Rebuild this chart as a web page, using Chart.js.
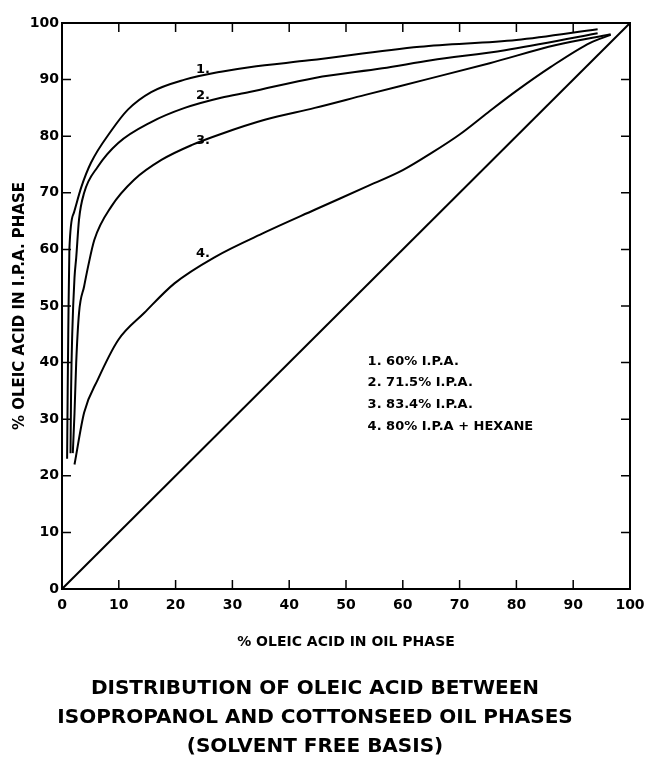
<!DOCTYPE html>
<html>
<head>
<meta charset="utf-8">
<script src="https://cdn.jsdelivr.net/npm/chart.js@4.4.1/dist/chart.umd.min.js"></script>
<style>
    html, body { margin: 0; padding: 0; background: #fff; }
    canvas { display: block; }
</style>
</head>
<body>
<canvas id="chart" width="653" height="767"></canvas>
<script>
// curve 1: 60% I.P.A.
const curve1X = [0.9, 1.0, 1.1, 1.3, 2.1, 3.4, 5.1, 8.7, 11.6, 15.7, 21.6, 28, 33, 43.5, 63, 80, 94.3];
const curve1Y = [23, 35, 45, 60, 66.5, 71, 75.3, 81, 84.7, 87.8, 90, 91.4, 92.2, 93.4, 95.8, 97, 98.9];

// curve 2: 71.5% I.P.A.
const curve2X = [1.5, 1.6, 1.8, 2.2, 2.5, 3, 3.9, 6.3, 9.9, 15.7, 21.6, 28, 33, 44.5, 56.4, 65, 78, 94.3];
const curve2Y = [24, 35, 45, 55, 58.5, 65.3, 70, 74.6, 78.8, 82.5, 85, 86.8, 87.8, 90.3, 92, 93.4, 95.2, 98.2];

// curve 3: 83.4% I.P.A.
const curve3X = [1.9, 2.2, 2.5, 3, 3.9, 4.6, 5.7, 8.7, 12.7, 17.5, 23, 28, 35.7, 44.5, 53.4, 64, 75.3, 87, 96.6];
const curve3Y = [24, 31, 40, 48.8, 53.5, 57, 61.7, 67.6, 72.3, 75.8, 78.5, 80.4, 82.9, 85, 87.3, 90, 92.9, 96.1, 98];

// curve 4: 80% I.P.A + hexane
const curve4X = [2.2, 3.9, 6.3, 9.9, 14.5, 19.8, 27, 35.7, 44.5, 53.4, 60, 65, 70, 75, 80, 86, 93, 96.6];
const curve4Y = [22, 31.2, 37, 44, 48.8, 54, 58.7, 63, 67, 71, 74, 77, 80.3, 84.2, 88, 92.2, 96.5, 97.9];

// y = x reference line
const diagX = [0, 100];
const diagY = [0, 100];

const curveNames = ['1.', '2.', '3.', '4.'];
const legendLines = ['1. 60% I.P.A.', '2. 71.5% I.P.A.', '3. 83.4% I.P.A.', '4. 80% I.P.A + HEXANE'];
const titleLines = [
    'DISTRIBUTION OF OLEIC ACID BETWEEN',
    'ISOPROPANOL AND COTTONSEED OIL PHASES',
    '(SOLVENT FREE BASIS)'
];

const FONT = "'DejaVu Sans', sans-serif";

function toPoints(xs, ys) {
    return xs.map((x, i) => ({x: x, y: ys[i]}));
}

function lineSet(xs, ys) {
    return {
        data: toPoints(xs, ys),
        showLine: true,
        borderColor: '#000',
        borderWidth: 2,
        pointRadius: 0,
        fill: false,
        cubicInterpolationMode: 'monotone'
    };
}

// box, inward tick marks, curve numbers and the key text
const decorations = {
    id: 'decorations',
    afterDraw(chart) {
        const ctx = chart.ctx;
        const a = chart.chartArea;
        const xs = chart.scales.x;
        const ys = chart.scales.y;
        const tl = 9;

        ctx.save();
        ctx.strokeStyle = '#000';
        ctx.lineWidth = 2;
        ctx.strokeRect(a.left, a.top, a.right - a.left, a.bottom - a.top);

        ctx.lineWidth = 1.5;
        ctx.beginPath();
        xs.ticks.forEach(t => {
            if (t.value <= 0 || t.value >= 100) return;
            const px = xs.getPixelForValue(t.value);
            ctx.moveTo(px, a.bottom); ctx.lineTo(px, a.bottom - tl);
            ctx.moveTo(px, a.top); ctx.lineTo(px, a.top + tl);
        });
        ys.ticks.forEach(t => {
            if (t.value <= 0 || t.value >= 100) return;
            const py = ys.getPixelForValue(t.value);
            ctx.moveTo(a.left, py); ctx.lineTo(a.left + tl, py);
            ctx.moveTo(a.right, py); ctx.lineTo(a.right - tl, py);
        });
        ctx.stroke();

        ctx.fillStyle = '#000';
        ctx.font = 'bold 13px ' + FONT;
        ctx.textBaseline = 'alphabetic';
        ctx.textAlign = 'left';
        const nameAt = [[23.6, 91.2], [23.6, 86.6], [23.6, 78.6], [23.6, 58.6]];
        curveNames.forEach((s, i) => {
            ctx.fillText(s, xs.getPixelForValue(nameAt[i][0]), ys.getPixelForValue(nameAt[i][1]));
        });

        ctx.textBaseline = 'middle';
        const keyY = [40.2, 36.5, 32.5, 28.6];
        legendLines.forEach((s, i) => {
            ctx.fillText(s, xs.getPixelForValue(53.8), ys.getPixelForValue(keyY[i]));
        });
        ctx.restore();
    }
};

new Chart(document.getElementById('chart'), {
    type: 'scatter',
    data: {
        datasets: [
            lineSet(curve1X, curve1Y),
            lineSet(curve2X, curve2Y),
            lineSet(curve3X, curve3Y),
            lineSet(curve4X, curve4Y),
            lineSet(diagX, diagY)
        ]
    },
    options: {
        responsive: false,
        animation: false,
        devicePixelRatio: 1,
        layout: {
            padding: {left: 0, right: 23, top: 23, bottom: 0}
        },
        plugins: {
            legend: {display: false},
            tooltip: {enabled: false},
            title: {
                display: true,
                position: 'bottom',
                text: titleLines,
                color: '#000',
                font: {family: FONT, weight: 'bold', size: 20, lineHeight: 1.45},
                padding: {top: 5, bottom: 6}
            }
        },
        scales: {
            x: {
                type: 'linear',
                min: 0,
                max: 100,
                afterFit: s => { s.height = 80; },
                grid: {display: false, drawTicks: false},
                border: {display: false},
                ticks: {
                    stepSize: 10,
                    padding: 8,
                    color: '#000',
                    maxRotation: 0,
                    font: {family: FONT, weight: 'bold', size: 14}
                },
                title: {
                    display: true,
                    text: '% OLEIC ACID IN OIL PHASE',
                    color: '#000',
                    font: {family: FONT, weight: 'bold', size: 14},
                    padding: {top: 0, bottom: 18}
                }
            },
            y: {
                type: 'linear',
                min: 0,
                max: 100,
                afterFit: s => { s.width = 62; },
                grid: {display: false, drawTicks: false},
                border: {display: false},
                ticks: {
                    stepSize: 10,
                    padding: 3,
                    color: '#000',
                    font: {family: FONT, weight: 'bold', size: 14}
                },
                title: {
                    display: true,
                    text: '% OLEIC ACID IN I.P.A. PHASE',
                    color: '#000',
                    font: {family: FONT, weight: 'bold', size: 15},
                    padding: {top: 11, bottom: 0}
                }
            }
        }
    },
    plugins: [decorations]
});
</script>
</body>
</html>
